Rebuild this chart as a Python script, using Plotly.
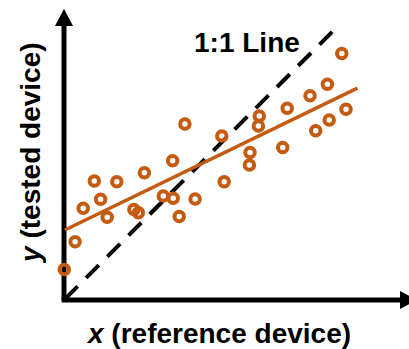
import plotly.graph_objects as go

# Paired readings: reference device (x) vs tested device (y)
reference_x = [0.1, 3.7, 6.4, 10.1, 12.2, 14.4, 17.6, 23.3, 24.8, 26.8,
               33.1, 36.4, 36.2, 38.4, 40.3, 43.7, 52.6, 53.4, 61.8, 62.0,
               64.8, 65.1, 72.9, 74.4, 82.0, 83.9, 87.8, 88.4, 92.6, 94.0]
tested_y = [10.2, 19.4, 30.6, 39.7, 33.6, 27.6, 39.4, 30.2, 29.1, 42.4,
            34.7, 33.9, 46.4, 27.8, 58.7, 33.7, 54.7, 39.4, 45.0, 49.2,
            58.0, 61.3, 50.8, 63.9, 68.1, 56.4, 71.9, 60.0, 82.2, 63.6]

# Linear regression of tested vs reference
fit_slope = 0.485
fit_intercept = 23.2
fit_x = [0.3, 97.8]

# Identity (1:1) line extent
identity_x = [0.3, 91.0]

ORANGE = "#C55A11"
FONT = "Liberation Sans, Arial, sans-serif"

fig = go.Figure()

fig.add_trace(go.Scatter(
    x=identity_x, y=identity_x, mode="lines",
    line=dict(color="black", width=4, dash="18px,12px"),
    hoverinfo="skip", showlegend=False))

fig.add_trace(go.Scatter(
    x=fit_x, y=[fit_intercept + fit_slope * v for v in fit_x], mode="lines",
    line=dict(color=ORANGE, width=3.5),
    hoverinfo="skip", showlegend=False))

fig.add_trace(go.Scatter(
    x=reference_x, y=tested_y, mode="markers",
    marker=dict(symbol="circle-open", size=9.5, color=ORANGE,
                line=dict(width=4, color=ORANGE)),
    showlegend=False))

# Arrowed axes drawn beneath the data
axis_top = 91.3
axis_right = 112.0
head = 3.0
shapes = [
    dict(type="line", x0=0, y0=0, x1=0, y1=axis_top, layer="below",
         line=dict(color="black", width=5)),
    dict(type="line", x0=-0.8, y0=0, x1=axis_right, y1=0, layer="below",
         line=dict(color="black", width=5)),
    dict(type="path", layer="below", fillcolor="black", line=dict(width=0),
         path=f"M {-head},{axis_top} L {head},{axis_top} L 0,{axis_top + 5.8} Z"),
    dict(type="path", layer="below", fillcolor="black", line=dict(width=0),
         path=f"M {axis_right},{-head} L {axis_right},{head} L {axis_right + 5.8},0 Z"),
]

annotations = [
    dict(x=61.0, y=85.7, xref="x", yref="y", showarrow=False,
         text="<b>1:1 Line</b>", font=dict(family=FONT, size=28, color="black"),
         xanchor="center", yanchor="middle"),
    dict(x=51.5, y=-11.3, xref="x", yref="y", showarrow=False,
         text="<b><i>x</i> (reference device)</b>",
         font=dict(family=FONT, size=28, color="black"),
         xanchor="center", yanchor="middle"),
    dict(x=-11.0, y=48.7, xref="x", yref="y", showarrow=False, textangle=-90,
         text="<b><i>y</i> (tested device)</b>",
         font=dict(family=FONT, size=28, color="black"),
         xanchor="center", yanchor="middle"),
]

fig.update_layout(
    width=409, height=349,
    margin=dict(l=0, r=0, t=0, b=0),
    paper_bgcolor="white", plot_bgcolor="white",
    xaxis=dict(range=[-64 / 3, 345 / 3], visible=False, fixedrange=True),
    yaxis=dict(range=[-49 / 3, 100], visible=False, fixedrange=True),
    shapes=shapes, annotations=annotations,
)

fig.write_html("out.html")
